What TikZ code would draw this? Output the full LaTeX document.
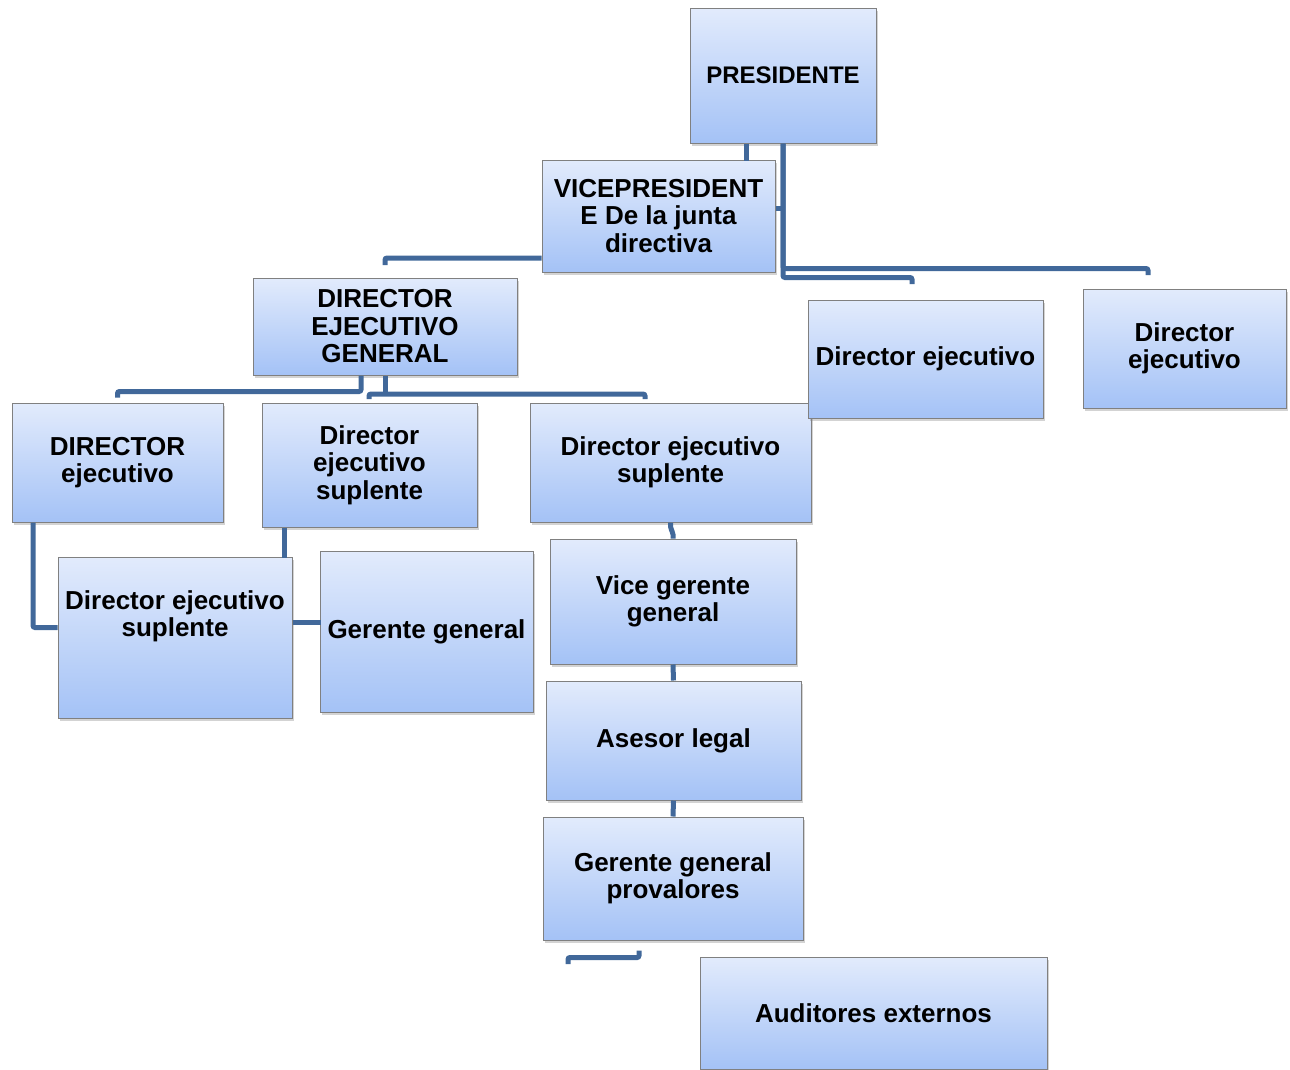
\documentclass[tikz,border=0pt]{standalone}
\usepackage{fontspec}
\setmainfont{Liberation Sans}
\usetikzlibrary{shadows}
\definecolor{box_top}{RGB}{226,235,252}
\definecolor{box_bottom}{RGB}{164,194,246}
\definecolor{box_gray}{RGB}{128,128,128}
\definecolor{edge_blue}{RGB}{65,104,154}

\begin{document}
\begin{tikzpicture}[x=1pt,y=-1pt]
    \tikzstyle{box}=[draw=box_gray, line width=1pt, rectangle, top color=box_top, bottom color=box_bottom,
        drop shadow={shadow xshift=2pt, shadow yshift=-3pt, opacity=0.35}, align=center, inner sep=2pt,
        font=\fontsize{26}{27.5}\selectfont\bfseries, text=black]
    \tikzstyle{link}=[draw=edge_blue, line width=5pt, rounded corners=2pt]

    \useasboundingbox (0,0) rectangle (1290,1069);

    \node[box, minimum width=186pt, minimum height=135pt, font=\fontsize{24}{27.5}\selectfont\bfseries] (pres) at (783,75.5) {PRESIDENTE};
    \node[box, minimum width=233pt, minimum height=112pt] (vice)   at (658.5,216)  {VICEPRESIDENT\\E De la junta\\directiva};
    \node[box, minimum width=264pt, minimum height=97pt]  (dirgen) at (385,326.5)  {DIRECTOR\\EJECUTIVO\\GENERAL};
    \node[box, minimum width=203pt, minimum height=119pt] (dirb)   at (1184.5,348.5) {Director\\ejecutivo};
    \node[box, minimum width=211pt, minimum height=119pt] (dirl)   at (117.5,462.5) {DIRECTOR\\ejecutivo};
    \node[box, minimum width=215pt, minimum height=124pt] (supm)   at (369.5,465)  {Director\\ejecutivo\\suplente};
    \node[box, minimum width=281pt, minimum height=119pt] (supr)   at (670.5,462.5) {Director ejecutivo\\suplente};
    \node[box, minimum width=235pt, minimum height=118pt] (dira)   at (925.5,359)  {Director ejecutivo};
    \node[box, minimum width=234pt, minimum height=161pt, text depth=48pt] (supl) at (175,637.5) {Director ejecutivo\\suplente};
    \node[box, minimum width=213pt, minimum height=161pt] (gergen) at (426.5,631.5) {Gerente general};
    \node[box, minimum width=246pt, minimum height=125pt] (vicger) at (673,601.5)  {Vice gerente\\general};
    \node[box, minimum width=255pt, minimum height=119pt] (asesor) at (673.5,740.5) {Asesor legal};
    \node[box, minimum width=260pt, minimum height=123pt] (gerpro) at (673,878.5)  {Gerente general\\provalores};
    \node[box, minimum width=347pt, minimum height=112pt] (audit)  at (873.5,1013) {Auditores externos};

    % free ends of the connectors
    \coordinate (endb) at (1148,275);
    \coordinate (enda) at (912,284);
    \coordinate (endg) at (385,265);
    \coordinate (endm) at (369,399);
    \coordinate (endr) at (645,399);
    \coordinate (endp) at (568,964);

    \draw[link] ([xshift=-37pt]pres.south) -- ++(0,17);
    \draw[link] (pres.south) -- ++(0,125) -| (endb);
    \draw[link] (pres.south) -- ++(0,134) -| (enda);
    \draw[link] ([yshift=8pt]vice.east) -- ([yshift=8pt]vice.east -| pres.south);
    \draw[link] ([yshift=-42pt]vice.west) -| (endg);
    \draw[link] ([xshift=-24pt]dirgen.south) -- ++(0,16) -| ([yshift=5pt]dirl.north);
    \draw[link] (dirgen.south) -- ++(0,19);
    \draw[link] (endm) -- ++(0,-5) -| (endr);
    \draw[link] ([xshift=-84.5pt]dirl.south) |- ([yshift=10pt]supl.west);
    \draw[link] ([xshift=-85.5pt]supm.south) -- ++(0,30);
    \draw[link] ([yshift=15pt]supl.east) -- ++(28,0);
    \draw[link] (supr.south) -- ++(0,6) -- ++(2.5,4) -- (vicger.north);
    \draw[link] (vicger.south) -- (asesor.north);
    \draw[link] (asesor.south) -- (gerpro.north);
    \draw[link] ([xshift=-34pt,yshift=-10pt]gerpro.south) -- ++(0,7) -| (endp);
\end{tikzpicture}
\end{document}
